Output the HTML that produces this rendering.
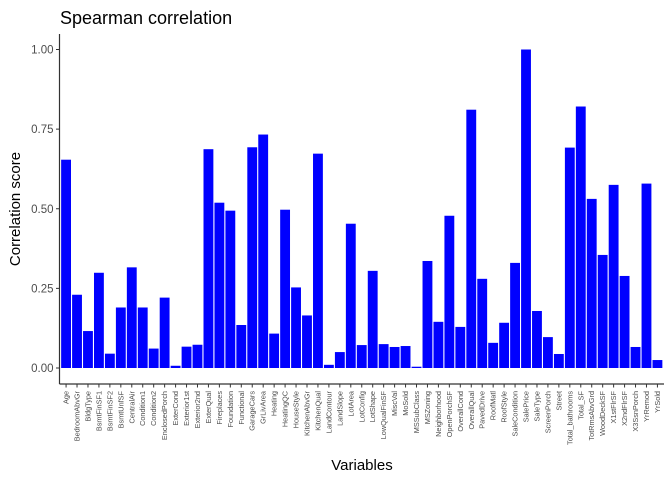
<!DOCTYPE html>
<html><head><meta charset="utf-8"><style>
body{margin:0;background:#fff;}
svg{font-family:"Liberation Sans",Arial,sans-serif;display:block;}
</style></head><body>
<svg id="chart" width="672" height="480">
<text x="60" y="24" font-size="18" fill="#000">Spearman correlation</text>
<text transform="translate(20,209) rotate(-90)" text-anchor="middle" font-size="15" fill="#000">Correlation score</text>
<text x="362" y="470" text-anchor="middle" font-size="15" fill="#000">Variables</text>
<g id="bars"></g><g id="axes"></g>
</svg>
<script>
const categories = ["Age","BedroomAbvGr","BldgType","BsmtFinSF1","BsmtFinSF2","BsmtUnfSF","CentralAir","Condition1","Condition2","EnclosedPorch","ExterCond","Exterior1st","Exterior2nd","ExterQual","Fireplaces","Foundation","Functional","GarageCars","GrLivArea","Heating","HeatingQC","HouseStyle","KitchenAbvGr","KitchenQual","LandContour","LandSlope","LotArea","LotConfig","LotShape","LowQualFinSF","MiscVal","MoSold","MSSubClass","MSZoning","Neighborhood","OpenPorchSF","OverallCond","OverallQual","PavedDrive","RoofMatl","RoofStyle","SaleCondition","SalePrice","SaleType","ScreenPorch","Street","Total_bathrooms","Total_SF","TotRmsAbvGrd","WoodDeckSF","X1stFlrSF","X2ndFlrSF","X3SsnPorch","YrRemod","YrSold"];
const values = [0.654,0.230,0.116,0.299,0.045,0.190,0.316,0.190,0.061,0.221,0.007,0.067,0.073,0.687,0.519,0.494,0.135,0.693,0.733,0.108,0.497,0.253,0.165,0.673,0.010,0.050,0.453,0.072,0.305,0.075,0.066,0.069,0.004,0.336,0.145,0.478,0.129,0.811,0.280,0.079,0.142,0.330,1.0,0.179,0.097,0.044,0.692,0.821,0.531,0.355,0.575,0.289,0.066,0.579,0.025];
const yTicks = [0,0.25,0.5,0.75,1.0];
const yTickLabels = ["0.00","0.25","0.50","0.75","1.00"];

const NS="http://www.w3.org/2000/svg";
const left=59.5,right=664,y0=368,y1=49.5,axisY=384;
const n=categories.length;
const unit=(right-left)/(n-1+1.2);
function xs(i){return left+(i+0.6)*unit;}
function ys(v){return y0-(y0-y1)*v;}
const bars=document.getElementById('bars'),axes=document.getElementById('axes');
function mk(tag,attrs,parent){const e=document.createElementNS(NS,tag);for(const k in attrs)e.setAttribute(k,attrs[k]);parent.appendChild(e);return e;}
values.forEach((v,i)=>{
  const w=unit*0.9;
  const r=mk('rect',{x:xs(i)-w/2,y:Math.min(ys(v),y0),width:w,height:Math.abs(y0-ys(v)),fill:'#0000ff'},bars);
  
  
  const t=mk('line',{x1:xs(i),x2:xs(i),y1:axisY,y2:axisY+3.5,stroke:'#333','stroke-width':1},axes);
  
  
  const l=mk('text',{transform:`translate(${xs(i)+2.5},${axisY+7}) rotate(-90)`,'text-anchor':'end','font-size':7.3,fill:'#4d4d4d'},axes);
  l.textContent=categories[i];
  
  
});
yTicks.forEach((v,i)=>{
  const t=mk('line',{x1:left-3.5,x2:left,y1:ys(v),y2:ys(v),stroke:'#333','stroke-width':1},axes);
  
  
  const l=mk('text',{x:left-6,y:ys(v)+4,'text-anchor':'end','font-size':11.5,fill:'#4d4d4d'},axes);
  l.textContent=yTickLabels[i];
  
  
});
const ya=mk('line',{x1:left,x2:left,y1:34,y2:axisY,stroke:'#333','stroke-width':1.2},axes);


const xa=mk('line',{x1:left,x2:right,y1:axisY,y2:axisY,stroke:'#333','stroke-width':1.2},axes);


</script>
</body></html>
